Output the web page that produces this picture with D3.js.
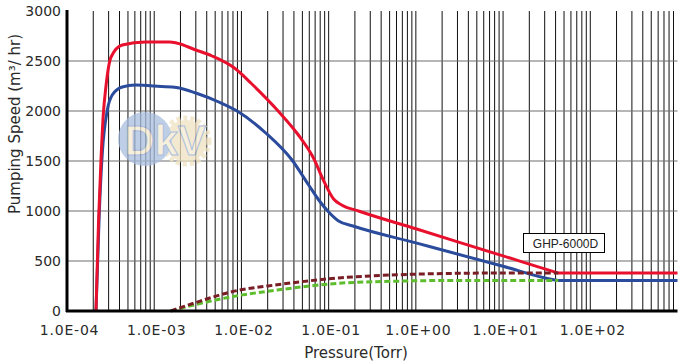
<!DOCTYPE html>
<html>
<head>
<meta charset="utf-8">
<script src="https://cdn.jsdelivr.net/npm/d3@7"></script>
<style>
	body { margin: 0; background: #fff; }
	svg { display: block; }
	.tick text { font-family: "DejaVu Sans", sans-serif; font-size: 14px; fill: #2a2a2a; }
	.x.axis .tick text { letter-spacing: 0.8px; }
</style>
</head>
<body>
<div id="chart"></div>
<script>
//Axis ticks
var xTickValues = [1e-4, 1e-3, 1e-2, 1e-1, 1e0, 1e1, 1e2];
var xTickLabels = ["1.0E-04", "1.0E-03", "1.0E-02", "1.0E-01", "1.0E+00", "1.0E+01", "1.0E+02"];
var yTickValues = [0, 500, 1000, 1500, 2000, 2500, 3000];

//Curves: [pressure (Torr), pumping speed (m3/hr)]
var redCurve = [
	[2.15e-4, 0], [2.3e-4, 900], [2.45e-4, 1500], [2.6e-4, 1950], [2.8e-4, 2250], [3.2e-4, 2540],
	[4.3e-4, 2660], [8e-4, 2690], [1.5e-3, 2690], [1.8e-3, 2680], [3e-3, 2610], [4.6e-3, 2550],
	[8.6e-3, 2420], [1.3e-2, 2275], [2.7e-2, 1990], [4.5e-2, 1760], [6.7e-2, 1530], [8.8e-2, 1300],
	[0.114, 1120], [0.141, 1060], [0.22, 1000], [1, 822], [10, 551], [38, 394], [43, 380], [1000, 380]
];
var blueCurve = [
	[2.15e-4, 0], [2.35e-4, 1000], [2.55e-4, 1600], [2.9e-4, 2010], [3.3e-4, 2160], [4.3e-4, 2240],
	[6.1e-4, 2260], [1.2e-3, 2245], [1.8e-3, 2235], [3e-3, 2180], [5.5e-3, 2090], [9.3e-3, 1990],
	[1.9e-2, 1780], [3.8e-2, 1510], [5.9e-2, 1260], [7.7e-2, 1110], [0.1, 990], [0.13, 900],
	[0.19, 850], [1, 681], [10, 447], [38, 312], [43, 305], [1000, 305]
];
var darkRedCurve = [
	[1.55e-3, 0], [3e-3, 85], [7.8e-3, 193], [2.7e-2, 265], [0.13, 330], [0.6, 362],
	[2.2, 375], [10, 380], [43, 380]
];
var greenCurve = [
	[1.55e-3, 0], [3e-3, 65], [7.8e-3, 143], [2.7e-2, 212], [0.13, 277], [0.6, 298],
	[2.2, 305], [10, 305], [43, 305]
];
var legendLabel = "GHP-6000D";

//SVG setup
var width = 680;
var height = 364;
var plot = { left: 67, right: 677.5, top: 11, bottom: 311 };

var svg = d3.select("#chart")
	.append("svg")
	.attr("width", width)
	.attr("height", height);

//Scales
var x = d3.scaleLog()
	.domain([1e-4, 1e3])
	.range([plot.left, plot.right]);

var y = d3.scaleLinear()
	.domain([0, 3000])
	.range([plot.bottom, plot.top]);

//Vertical grid (every 1..9 x decade)
svg.append("g")
	.attr("class", "vgrid")
	.selectAll("line")
	.data(x.ticks().filter(function(d) { return d > 1e-4 && d < 1e3; }))
	.enter()
	.append("line")
	.attr("x1", function(d) { return x(d); })
	.attr("x2", function(d) { return x(d); })
	.attr("y1", plot.top)
	.attr("y2", plot.bottom)
	.attr("stroke", "#111")
	.attr("stroke-width", 1);

//Horizontal grid
svg.append("g")
	.attr("class", "hgrid")
	.selectAll("line")
	.data(yTickValues.filter(function(d) { return d > 0 && d < 3000; }))
	.enter()
	.append("line")
	.attr("x1", plot.left)
	.attr("x2", plot.right)
	.attr("y1", function(d) { return y(d); })
	.attr("y2", function(d) { return y(d); })
	.attr("stroke", "#6e6e6e")
	.attr("stroke-width", 1.2);

//Watermark logo
var logo = svg.append("g")
	.attr("class", "logo")
	.attr("opacity", 0.75);
logo.append("circle")
	.attr("cx", 186).attr("cy", 141).attr("r", 21)
	.attr("fill", "#efe2c2");
logo.append("circle")
	.attr("cx", 186).attr("cy", 141).attr("r", 23)
	.attr("fill", "none")
	.attr("stroke", "#efe2c2")
	.attr("stroke-width", 5)
	.attr("stroke-dasharray", "4,3");
logo.append("circle")
	.attr("cx", 145).attr("cy", 139).attr("r", 27)
	.attr("fill", "#a9bedf");
logo.append("text")
	.attr("x", 165).attr("y", 155)
	.attr("text-anchor", "middle")
	.attr("font-family", "Liberation Sans, sans-serif")
	.attr("font-weight", "bold")
	.attr("font-size", 42)
	.attr("fill", "#f4ead0")
	.attr("stroke", "#8fa8d2")
	.attr("stroke-width", 1)
	.text("DkV");

//Curves
var line = d3.line()
	.x(function(d) { return x(d[0]); })
	.y(function(d) { return y(d[1]); })
	.curve(d3.curveMonotoneX);

var series = [
	{ data: blueCurve, color: "#2b4c9c", dash: null },
	{ data: redCurve, color: "#e8102d", dash: null },
	{ data: greenCurve, color: "#5dbd2c", dash: "6,3" },
	{ data: darkRedCurve, color: "#7a1e26", dash: "6,3" }
];

svg.append("g")
	.attr("class", "curves")
	.selectAll("path")
	.data(series)
	.enter()
	.append("path")
	.attr("d", function(d) { return line(d.data); })
	.attr("fill", "none")
	.attr("stroke", function(d) { return d.color; })
	.attr("stroke-width", 3)
	.attr("stroke-dasharray", function(d) { return d.dash; });

//Axes
svg.append("g")
	.attr("class", "x axis")
	.attr("transform", "translate(0," + plot.bottom + ")")
	.call(d3.axisBottom(x)
		.tickValues(xTickValues)
		.tickSize(0)
		.tickPadding(14)
		.tickFormat(function(d, i) { return xTickLabels[i]; }))
	.call(function(g) { g.select(".domain").remove(); })
	.selectAll("text")
	.attr("dx", 2);

svg.append("line")
	.attr("x1", plot.left - 1).attr("x2", plot.right)
	.attr("y1", plot.bottom).attr("y2", plot.bottom)
	.attr("stroke", "#000")
	.attr("stroke-width", 3);

svg.append("g")
	.attr("class", "y axis")
	.attr("transform", "translate(" + plot.left + ",0)")
	.call(d3.axisLeft(y)
		.tickValues(yTickValues)
		.tickSize(0)
		.tickPadding(6)
		.tickFormat(d3.format("d")))
	.call(function(g) { g.select(".domain").remove(); });

svg.append("line")
	.attr("x1", plot.left).attr("x2", plot.left)
	.attr("y1", plot.top - 1).attr("y2", plot.bottom + 1)
	.attr("stroke", "#000")
	.attr("stroke-width", 3);

//Axis labels
svg.append("text")
	.attr("x", 356)
	.attr("y", 358)
	.attr("text-anchor", "middle")
	.attr("font-family", "DejaVu Sans, sans-serif")
	.attr("font-size", 15)
	.attr("fill", "#2a2a2a")
	.text("Pressure(Torr)");

svg.append("text")
	.attr("transform", "translate(20,124) rotate(-90)")
	.attr("text-anchor", "middle")
	.attr("font-family", "DejaVu Sans, sans-serif")
	.attr("font-size", 15)
	.attr("fill", "#2a2a2a")
	.text("Pumping Speed (m\u00b3/ hr)");

//Legend box
var legend = svg.append("g")
	.attr("class", "legend")
	.attr("transform", "translate(523.5,233.5)");
legend.append("rect")
	.attr("width", 81)
	.attr("height", 19)
	.attr("fill", "#fff")
	.attr("stroke", "#000")
	.attr("stroke-width", 1);
legend.append("text")
	.attr("x", 42)
	.attr("y", 14)
	.attr("text-anchor", "middle")
	.attr("font-family", "Liberation Sans, sans-serif")
	.attr("font-size", 12)
	.attr("fill", "#222")
	.text(legendLabel);
</script>
</body>
</html>
